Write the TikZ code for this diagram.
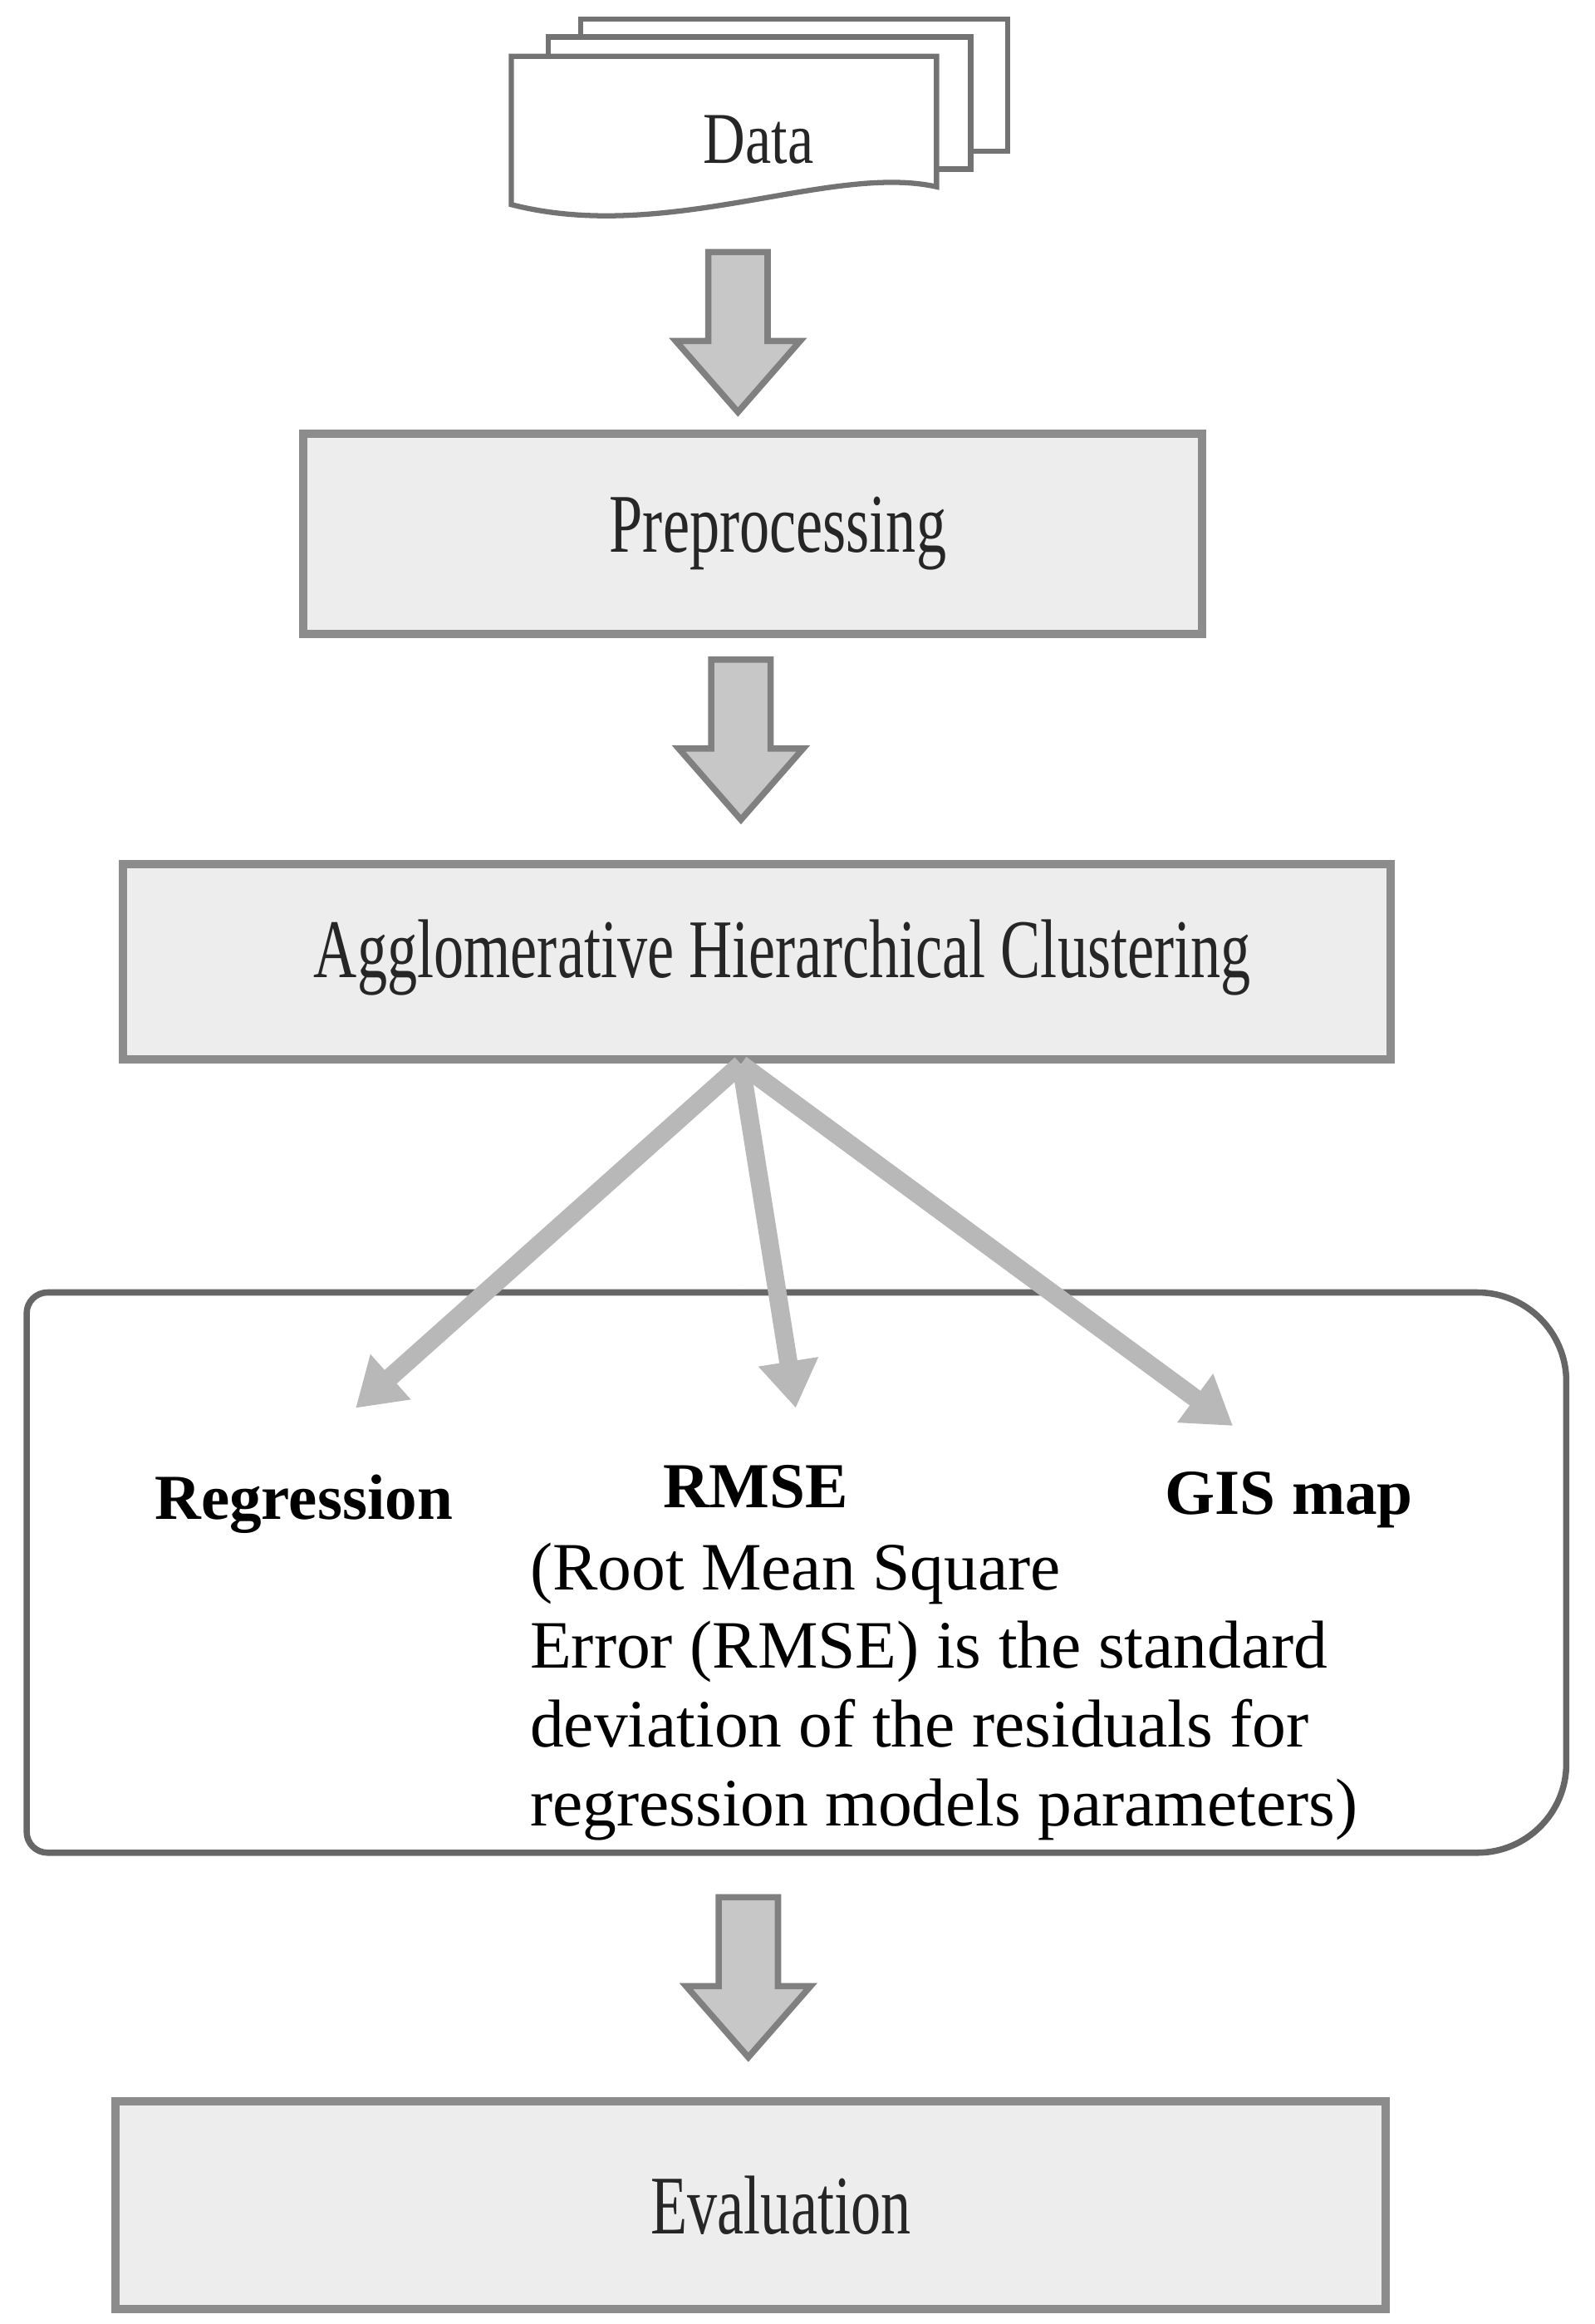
\documentclass[tikz,border=0pt]{standalone}
\usepackage{fontspec}
\setmainfont{Liberation Serif}
\usetikzlibrary{arrows.meta}
\begin{document}
\begin{tikzpicture}[x=0.01cm,y=-0.01cm,
  box/.style={draw=black!45,line width=1.6pt,fill=black!7},
  lab/.style={xscale=0.72,font=\fontsize{16}{18}\selectfont,text=black!85},
  blk/.style={draw=black!50,line width=1.2pt,fill=black!22},
  ln/.style={draw=black!28,line width=3.5pt,-{Triangle[width=11pt,length=9pt]}},
  sheet/.style={draw=black!55,line width=1pt,fill=white}]
\useasboundingbox (0,0) rectangle (1076,1568);
% data stack
\draw[sheet] (392,13) -- (680,13) -- (680,102) -- (392,102) -- cycle;
\draw[sheet] (370,25) -- (655,25) -- (655,114) -- (370,114) -- cycle;
\draw[sheet] (345,38) -- (632,38) -- (632,126) .. controls (560,110) and (450,165) .. (345,138) -- cycle;
\node[xscale=0.8,font=\fontsize{14}{16}\selectfont,text=black!85] (data) at (512,94) {Data};
% arrows
\newcommand{\blkarrow}[3]{\draw[blk] (#1-20,#2) -- (#1+20,#2) -- (#1+20,#2+60) -- (#1+42,#2+60) -- (#1,#3) -- (#1-42,#2+60) -- (#1-20,#2+60) -- cycle;}
\blkarrow{498}{170}{278}
\node[box,inner sep=0,anchor=north west,minimum width=6.06cm,minimum height=1.35cm] (pre) at (202,290) {};
\node[lab] at (525,360) {Preprocessing};
\blkarrow{500}{445}{553}
\node[box,inner sep=0,anchor=north west,minimum width=8.55cm,minimum height=1.32cm] (ahc) at (80,580) {};
\node[lab] at (528,646) {Agglomerative Hierarchical Clustering};
% panel
\draw[draw=black!60,line width=1.2pt,rounded corners=4pt] (500,1250) -- (18,1250) -- (18,872) -- (500,872);
\draw[draw=black!60,line width=1.2pt,rounded corners=0.6cm] (500,872) -- (1057,872) -- (1057,1250) -- (500,1250);
\coordinate (o) at (500,718);
\coordinate (r1) at (240,950);
\coordinate (r2) at (537,950);
\coordinate (r3) at (832,962);
\draw[ln] (o) -- (r1);
\draw[ln] (o) -- (r2);
\draw[ln] (o) -- (r3);
\node[font=\fontsize{12.3}{14}\selectfont\bfseries] (reg) at (205,1015) {Regression};
\node[font=\fontsize{12.3}{14}\selectfont\bfseries] (rmse) at (510,1003) {RMSE};
\node[font=\fontsize{12.3}{14}\selectfont\bfseries] (gis) at (870,1012) {GIS map};
\node[anchor=north west,inner sep=0,align=left,font=\fontsize{13}{15.1}\selectfont] (txt) at (357,1040) {(Root Mean Square\\Error (RMSE) is the standard\\deviation of the residuals for\\regression models parameters)};
\blkarrow{505}{1280}{1388}
\node[box,inner sep=0,anchor=north west,minimum width=8.57cm,minimum height=1.4cm] (ev) at (75,1415) {};
\node[lab] at (527,1488) {Evaluation};
\end{tikzpicture}
\end{document}
